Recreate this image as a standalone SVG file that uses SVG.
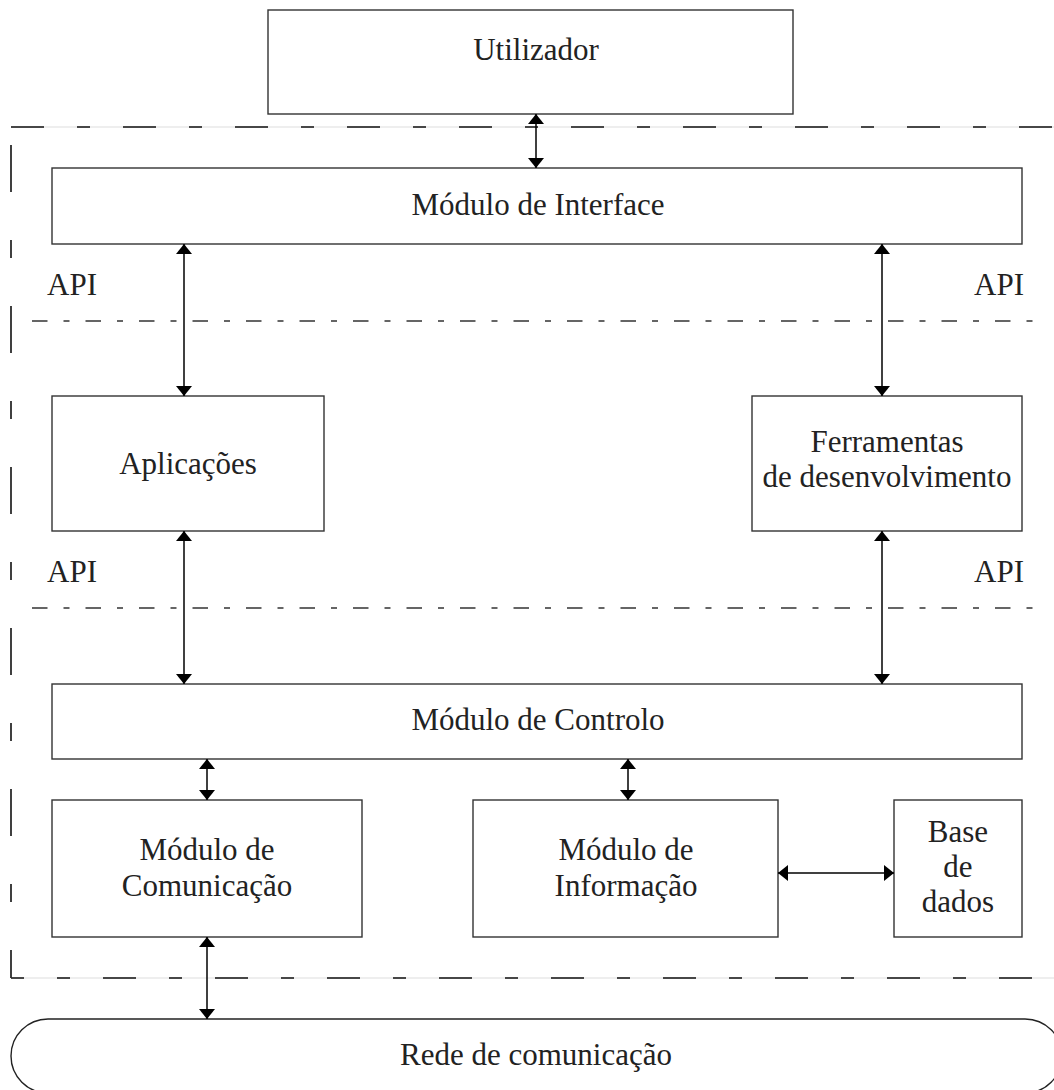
<svg xmlns="http://www.w3.org/2000/svg" width="1054" height="1090" viewBox="0 0 1054 1090">
  <style>
    .box { fill: #fff; stroke: #333; stroke-width: 1.4; }
    .lbl { font-size: 31px; fill: #222; text-anchor: middle; }
    .api { font-size: 31px; fill: #222; }
    .link { stroke: #000; stroke-width: 1.5; fill: none; marker-start: url(#head); marker-end: url(#head); }
    .guide { stroke: #ddd; stroke-width: 1; fill: none; }
    .bound { stroke: #111; stroke-width: 1.6; fill: none; stroke-dasharray: 33 33 13 33; }
    .layer { stroke: #333; stroke-width: 1.4; fill: none; stroke-dasharray: 15.5 16 6 16; }
  </style>
  <defs>
    <marker id="head" viewBox="0 0 10 16" refX="10" refY="8" markerWidth="10" markerHeight="16" markerUnits="userSpaceOnUse" orient="auto-start-reverse">
      <path d="M0,0 L10,8 L0,16 Z" fill="#000"/>
    </marker>
  </defs>

  <rect width="1054" height="1090" fill="#fff"/>

  <!-- system boundary -->
  <g id="boundary">
    <line class="guide" x1="11" y1="127" x2="1054" y2="127"/>
    <line class="bound" x1="11" y1="127" x2="1054" y2="127"/>
    <line class="bound" x1="11" y1="145" x2="11" y2="978" style="stroke-dasharray: 47 48 18 48"/>
    <line class="guide" x1="11" y1="978" x2="1054" y2="978"/>
    <line class="bound" x1="11" y1="978" x2="1054" y2="978" style="stroke-dashoffset: 20"/>
  </g>

  <g font-family="'Liberation Serif', Tinos, 'Times New Roman', 'DejaVu Serif', serif">
    <!-- API layer separators -->
    <g id="api-layers">
      <line class="layer" x1="32" y1="321" x2="1040" y2="321"/>
      <line class="layer" x1="32" y1="608" x2="1040" y2="608"/>
      <text class="api" x="47" y="295">API</text>
      <text class="api" x="974" y="295">API</text>
      <text class="api" x="47" y="582">API</text>
      <text class="api" x="974" y="582">API</text>
    </g>

    <g id="utilizador">
      <rect class="box" x="268" y="10" width="525" height="104"/>
      <text class="lbl" x="536" y="60">Utilizador</text>
    </g>

    <g id="modulo-interface">
      <rect class="box" x="52" y="168" width="970" height="76"/>
      <text class="lbl" x="538" y="215">Módulo de Interface</text>
    </g>

    <g id="aplicacoes">
      <rect class="box" x="52" y="396" width="272" height="135"/>
      <text class="lbl" x="188" y="474">Aplicações</text>
    </g>

    <g id="ferramentas">
      <rect class="box" x="752" y="396" width="270" height="135"/>
      <text class="lbl" x="887" y="452">Ferramentas</text>
      <text class="lbl" x="887" y="487">de desenvolvimento</text>
    </g>

    <g id="modulo-controlo">
      <rect class="box" x="52" y="684" width="970" height="75"/>
      <text class="lbl" x="538" y="730">Módulo de Controlo</text>
    </g>

    <g id="modulo-comunicacao">
      <rect class="box" x="52" y="800" width="310" height="137"/>
      <text class="lbl" x="207" y="860">Módulo de</text>
      <text class="lbl" x="207" y="896">Comunicação</text>
    </g>

    <g id="modulo-informacao">
      <rect class="box" x="473" y="800" width="305" height="137"/>
      <text class="lbl" x="626" y="860">Módulo de</text>
      <text class="lbl" x="626" y="896">Informação</text>
    </g>

    <g id="base-dados">
      <rect class="box" x="894" y="800" width="128" height="137"/>
      <text class="lbl" x="958" y="842">Base</text>
      <text class="lbl" x="958" y="877">de</text>
      <text class="lbl" x="958" y="912">dados</text>
    </g>

    <g id="rede-comunicacao">
      <rect x="11" y="1019" width="1051" height="74" rx="37" ry="37" fill="#fff" stroke="#222" stroke-width="1.4"/>
      <text class="lbl" x="536" y="1065">Rede de comunicação</text>
    </g>
  </g>

  <!-- connectors -->
  <g id="connectors">
    <line class="link" x1="536" y1="114" x2="536" y2="168"/>
    <line class="link" x1="184" y1="244" x2="184" y2="396"/>
    <line class="link" x1="882" y1="244" x2="882" y2="396"/>
    <line class="link" x1="184" y1="531" x2="184" y2="684"/>
    <line class="link" x1="882" y1="531" x2="882" y2="684"/>
    <line class="link" x1="207" y1="759" x2="207" y2="800"/>
    <line class="link" x1="628" y1="759" x2="628" y2="800"/>
    <line class="link" x1="778" y1="873" x2="894" y2="873"/>
    <line class="link" x1="207" y1="937" x2="207" y2="1019"/>
  </g>
</svg>
